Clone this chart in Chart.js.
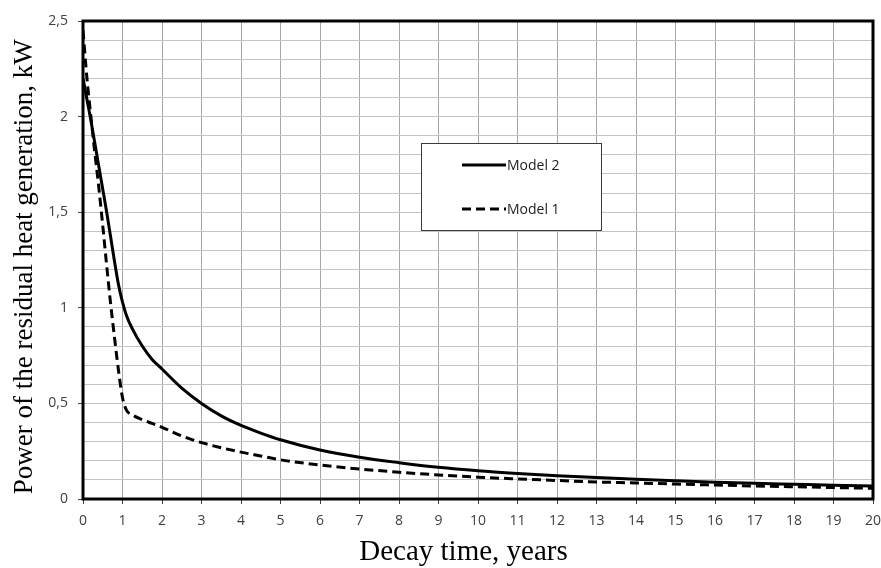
<!DOCTYPE html>
<html>
<head>
<meta charset="utf-8">
<script src="https://cdn.jsdelivr.net/npm/chart.js@4.4.1/dist/chart.umd.min.js"></script>
<style>
  html, body { margin: 0; padding: 0; background: #fff; }
  #wrap { width: 881px; height: 568px; }
</style>
</head>
<body>
<div id="wrap"><canvas id="decayChart"></canvas></div>
<script>
// decay time, years
const years = [0, 0.1, 0.2, 0.3, 0.4, 0.5, 0.6, 0.7, 0.8, 0.9, 1, 1.1, 1.25, 1.5, 1.75, 2, 2.5, 3, 3.5, 4, 4.5, 5,
  6, 7, 8, 9, 10, 11, 12, 13, 14, 15, 16, 17, 18, 19, 20];

// power, kW
const model2 = [2.2, 2.09, 1.98, 1.86, 1.74, 1.62, 1.5, 1.37, 1.24, 1.12, 1.03, 0.96, 0.89, 0.8, 0.73, 0.68, 0.58, 0.5, 0.435, 0.385, 0.345, 0.31,
  0.256, 0.218, 0.19, 0.166, 0.148, 0.134, 0.122, 0.113, 0.103, 0.095, 0.088, 0.082, 0.077, 0.072, 0.068];
const model1 = [2.45, 2.2, 2.0, 1.81, 1.63, 1.43, 1.22, 1.02, 0.84, 0.67, 0.53, 0.465, 0.44, 0.415, 0.395, 0.375, 0.33, 0.295, 0.268, 0.245, 0.225, 0.205,
  0.178, 0.157, 0.14, 0.126, 0.114, 0.105, 0.097, 0.089, 0.084, 0.078, 0.073, 0.068, 0.064, 0.06, 0.056];

const yLabels = ['0', '0,5', '1', '1,5', '2', '2,5'];

const isMajor = (v) => Math.abs(v * 2 - Math.round(v * 2)) < 1e-6;

// рамка вокруг области построения
const frame = {
  id: 'frame',
  beforeDatasetsDraw(chart) {
    const { ctx, chartArea: a } = chart;
    ctx.save();
    ctx.strokeStyle = '#000';
    ctx.lineWidth = 3;
    ctx.strokeRect(a.left, a.top, a.right - a.left, a.bottom - a.top);
    ctx.restore();
  }
};

// легенда в рамке посередине графика
const boxLegend = {
  id: 'boxLegend',
  afterDraw(chart) {
    const ctx = chart.ctx;
    const x0 = 421, y0 = 143, w = 180, h = 87;
    ctx.save();
    ctx.fillStyle = '#fff';
    ctx.fillRect(x0, y0, w, h);
    ctx.strokeStyle = '#3a3a3a';
    ctx.lineWidth = 1;
    ctx.strokeRect(x0 + 0.5, y0 + 0.5, w, h);
    const rows = [chart.data.datasets[0], chart.data.datasets[1]];
    rows.forEach((ds, i) => {
      const y = y0 + 22 + i * 44;
      ctx.strokeStyle = '#000';
      ctx.lineWidth = ds.borderWidth;
      ctx.setLineDash(ds.borderDash || []);
      ctx.beginPath();
      ctx.moveTo(x0 + 41, y);
      ctx.lineTo(x0 + 85, y);
      ctx.stroke();
      ctx.setLineDash([]);
      ctx.fillStyle = '#222';
      ctx.font = '14px "Open Sans"';
      ctx.textBaseline = 'middle';
      ctx.fillText(ds.label, x0 + 86, y + 1);
    });
    ctx.restore();
  }
};

new Chart(document.getElementById('decayChart'), {
  type: 'line',
  data: {
    datasets: [
      {
        label: 'Model 2',
        data: years.map((x, i) => ({ x: x, y: model2[i] })),
        borderColor: '#000',
        borderWidth: 3,
        pointRadius: 0,
        cubicInterpolationMode: 'monotone'
      },
      {
        label: 'Model 1',
        data: years.map((x, i) => ({ x: x, y: model1[i] })),
        borderColor: '#000',
        borderWidth: 3,
        borderDash: [9, 5],
        pointRadius: 0,
        cubicInterpolationMode: 'monotone'
      }
    ]
  },
  options: {
    responsive: true,
    maintainAspectRatio: false,
    animation: false,
    layout: { padding: { top: 21, right: 8, left: 0, bottom: 0 } },
    plugins: {
      legend: { display: false },
      tooltip: { enabled: false }
    },
    scales: {
      x: {
        type: 'linear',
        min: 0,
        max: 20,
        ticks: {
          stepSize: 1,
          color: '#404040',
          font: { family: 'Open Sans', size: 14 },
          padding: 9,
          maxRotation: 0
        },
        grid: { color: '#a6a6a6', tickColor: '#404040', tickLength: 5 },
        border: { display: false },
        title: {
          display: true,
          text: 'Decay time, years\u00a0\u00a0\u00a0\u00a0',
          color: '#000',
          font: { family: 'Liberation Serif', size: 29, lineHeight: 1 },
          padding: { top: 0, bottom: 1 }
        },
        afterFit(scale) {
          scale.height = 69;
          scale.paddingLeft = 0;
          scale.paddingRight = 0;
        }
      },
      y: {
        min: 0,
        max: 2.5,
        ticks: {
          stepSize: 0.1,
          color: '#404040',
          font: { family: 'Open Sans', size: 14 },
          padding: 10,
          autoSkip: false,
          callback: (v) => isMajor(v) ? yLabels[Math.round(v * 2)] : ''
        },
        grid: {
          color: '#c4c4c4',
          tickLength: 5,
          tickColor: (c) => isMajor(c.tick.value) ? '#404040' : 'rgba(0,0,0,0)'
        },
        border: { display: false },
        title: {
          display: true,
          text: 'Power of the residual heat generation, kW\u00a0\u00a0',
          color: '#000',
          font: { family: 'Liberation Serif', size: 27, lineHeight: 1 },
          padding: { top: 11, bottom: 0 }
        },
        afterFit(scale) {
          scale.width = 83;
          scale.paddingTop = 0;
          scale.paddingBottom = 0;
        }
      }
    }
  },
  plugins: [frame, boxLegend]
});
</script>
</body>
</html>
